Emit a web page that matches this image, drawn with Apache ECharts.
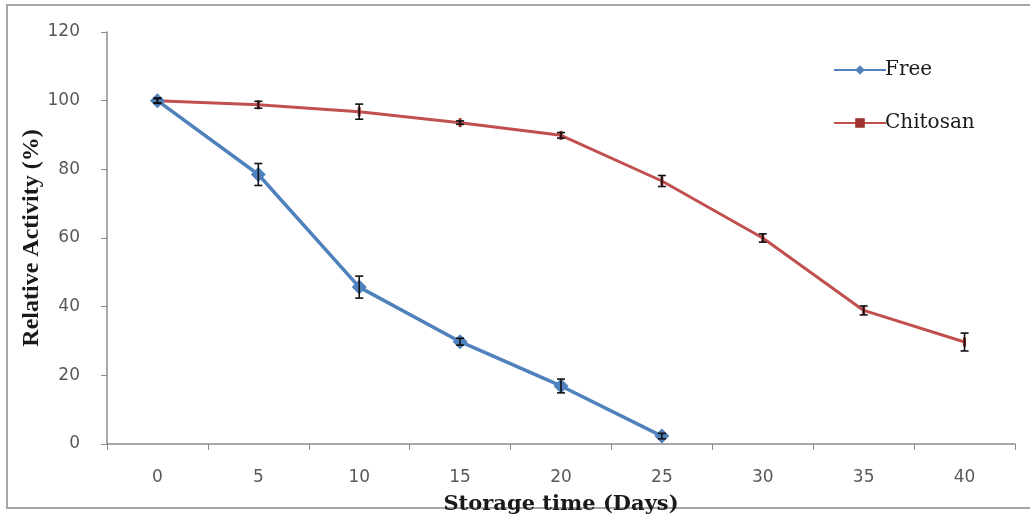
<!DOCTYPE html>
<html>
<head>
<meta charset="utf-8">
<script src="https://cdn.jsdelivr.net/npm/echarts@6/dist/echarts.min.js"></script>
<style>
html,body{margin:0;padding:0;background:#fff;}
#c{width:1030px;height:516px;}
</style>
</head>
<body>
<div id="c"></div>
<script>
const days = ['0','5','10','15','20','25','30','35','40'];
const freeValues = [100, 78.5, 45.7, 29.8, 16.9, 2.3, null, null, null];
const freeErrors = [0.8, 3.2, 3.2, 1.0, 2.0, 0.8, null, null, null];
const chitosanValues = [100, 98.8, 96.8, 93.6, 89.9, 76.6, 60.0, 38.9, 29.7];
const chitosanErrors = [0.6, 1.0, 2.2, 0.5, 0.8, 1.6, 1.2, 1.3, 2.6];
const yTicks = {min: 0, max: 120, interval: 20};

function errData(vals, errs) {
  const out = [];
  vals.forEach((v, i) => {
    if (v != null && errs[i] != null) out.push([i, v - errs[i], v + errs[i]]);
  });
  return out;
}

function errRender(params, api) {
  const x = api.value(0);
  const lo = api.coord([x, api.value(1)]);
  const hi = api.coord([x, api.value(2)]);
  const w = 4;
  const st = {stroke: '#111', lineWidth: 1.6};
  return {
    type: 'group',
    children: [
      {type: 'line', shape: {x1: lo[0], y1: lo[1], x2: hi[0], y2: hi[1]}, style: st},
      {type: 'line', shape: {x1: lo[0] - w, y1: lo[1], x2: lo[0] + w, y2: lo[1]}, style: st},
      {type: 'line', shape: {x1: hi[0] - w, y1: hi[1], x2: hi[0] + w, y2: hi[1]}, style: st}
    ]
  };
}

const chart = echarts.init(document.getElementById('c'), null, {renderer: 'canvas'});
const tickFont = {color: '#595959', fontSize: 17, fontFamily: 'DejaVu Sans'};
chart.setOption({
  backgroundColor: '#fff',
  animation: false,
  graphic: [{
    type: 'rect', shape: {x: 7, y: 5, width: 1030, height: 503},
    style: {fill: 'none', stroke: '#a6a6a6', lineWidth: 2}, silent: true, z: -1
  }],
  grid: {left: 107, right: 15, top: 32, bottom: 72, containLabel: false, outerBoundsMode: 'none'},
  legend: {
    orient: 'vertical', left: 828, top: 55, itemGap: 33,
    itemWidth: 52, itemHeight: 12,
    textStyle: {fontFamily: 'DejaVu Serif', fontSize: 20, color: '#1a1a1a', padding: [0,0,0,-6]},
    data: ['Free', 'Chitosan']
  },
  xAxis: {
    type: 'category', data: days, boundaryGap: true,
    name: 'Storage time (Days)', nameLocation: 'middle', nameGap: 50, nameMoveOverlap: false,
    nameTextStyle: {fontFamily: 'DejaVu Serif', fontWeight: 'bold', fontSize: 21, color: '#1a1a1a'},
    axisLine: {lineStyle: {color: '#8c8c8c', width: 1.5}},
    axisTick: {show: true, length: 6, alignWithLabel: false, lineStyle: {color: '#8c8c8c'}},
    axisLabel: Object.assign({margin: 25}, tickFont),
    splitLine: {show: false}
  },
  yAxis: {
    type: 'value', min: yTicks.min, max: yTicks.max, interval: yTicks.interval,
    name: 'Relative Activity (%)', nameLocation: 'middle', nameGap: 63, nameRotate: 90, nameMoveOverlap: false,
    nameTextStyle: {fontFamily: 'Liberation Serif', fontWeight: 'bold', fontSize: 24, color: '#1a1a1a'},
    axisLine: {show: true, lineStyle: {color: '#8c8c8c', width: 1.5}},
    axisTick: {show: true, length: 6, inside: false, lineStyle: {color: '#8c8c8c'}},
    axisLabel: Object.assign({margin: 27}, tickFont),
    splitLine: {show: false}
  },
  series: [
    {
      name: 'Free', type: 'line', data: freeValues,
      symbol: 'diamond', symbolSize: 15, connectNulls: false,
      lineStyle: {color: '#4F81BD', width: 3.5},
      itemStyle: {color: '#4F81BD'},
      z: 3
    },
    {
      name: 'Chitosan', type: 'line', data: chitosanValues,
      symbol: 'path://M0,0h3v10h-3z', symbolSize: [3, 9],
      lineStyle: {color: '#C0504D', width: 3},
      itemStyle: {color: '#9e3532'},
      z: 2
    },
    {
      type: 'custom', name: 'freeErr', data: errData(freeValues, freeErrors),
      renderItem: errRender, encode: {x: 0, y: [1, 2]}, z: 5, silent: true
    },
    {
      type: 'custom', name: 'chitosanErr', data: errData(chitosanValues, chitosanErrors),
      renderItem: errRender, encode: {x: 0, y: [1, 2]}, z: 5, silent: true
    }
  ]
});
</script>
</body>
</html>
